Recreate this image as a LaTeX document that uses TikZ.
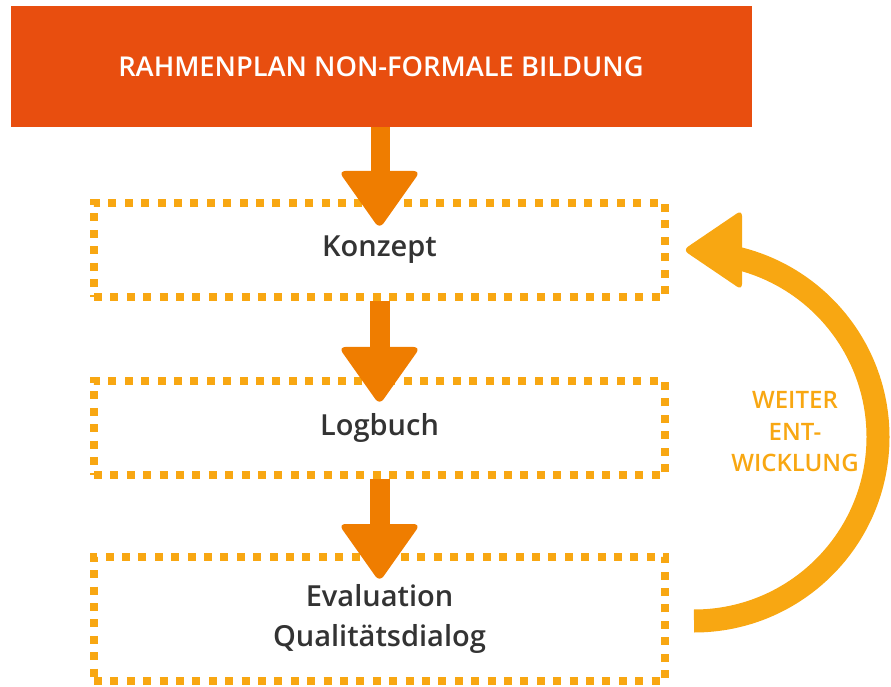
\documentclass[tikz,border=0pt]{standalone}
\usepackage{fontspec}
\setmainfont{Open Sans}[BoldFont={Open Sans Semibold}]
\usetikzlibrary{calc}
\definecolor{hdrcol}{HTML}{E84E0F}
\definecolor{arrcol}{HTML}{EF7D00}
\definecolor{dotcol}{HTML}{F8A712}
\definecolor{txtcol}{HTML}{333333}
\tikzset{
  header/.style={fill=hdrcol, minimum width=741pt, minimum height=121pt, inner sep=0pt,
    text=white, font=\bfseries\fontsize{27.3}{34}\selectfont},
  stagebox/.style={draw=dotcol, line width=8pt, dash pattern=on 8pt off 8.4pt,
    minimum width=571pt, inner sep=0pt, text=txtcol,
    font=\bfseries\fontsize{29}{40}\selectfont, align=center},
  looplabel/.style={text=dotcol, font=\bfseries\fontsize{24}{31.5}\selectfont, align=center},
  loopline/.style={draw=dotcol, line width=23pt},
}
\newcommand\flowarrow[2]{%
  \fill[arrcol] ($(#1)+(-10,0)$) rectangle ($(#2)+(10,48)$);
  \fill[arrcol, rounded corners=7pt] ($(#2)+(-41,53)$) -- ($(#2)+(41,53)$) -- ($(#2)+(0,-5)$) -- cycle;}
\begin{document}
\begin{tikzpicture}[x=1pt,y=1pt]
\useasboundingbox (0,0) rectangle (891,686);
\node[header] (hdr) at (381,619.5) {RAHMENPLAN NON-FORMALE BILDUNG};
\node[stagebox, minimum height=94pt] (konz) at (379.5,436) {Konzept};
\node[stagebox, minimum height=94pt] (logb) at (379.5,258) {Logbuch};
\node[stagebox, minimum height=124pt] (eval) at (379.5,67) {Evaluation\\Qualitätsdialog};
% straight arrows
\coordinate (t1) at ($(konz.north)+(0,-25)$);
\coordinate (t2) at ($(logb.north)+(0,-23)$);
\coordinate (t3) at ($(eval.north)+(0,-24)$);
\flowarrow{hdr.south}{t1}
\flowarrow{konz.south}{t2}
\flowarrow{logb.south}{t3}
% loop arrow
\coordinate (ls) at ($(eval.east)+(25,-2)$);
\coordinate (lt) at ($(konz.east)+(19,0)$);
\draw[loopline] (ls) arc[start angle=-90, end angle=78, radius=184];
\fill[dotcol, rounded corners=6pt] ($(lt)+(54,40)$) -- ($(lt)+(54,-40)$) -- ($(lt)+(-5,0)$) -- cycle;
\node[looplabel] (lbl) at (795,254) {WEITER\\ENT-\\WICKLUNG};
\end{tikzpicture}
\end{document}
